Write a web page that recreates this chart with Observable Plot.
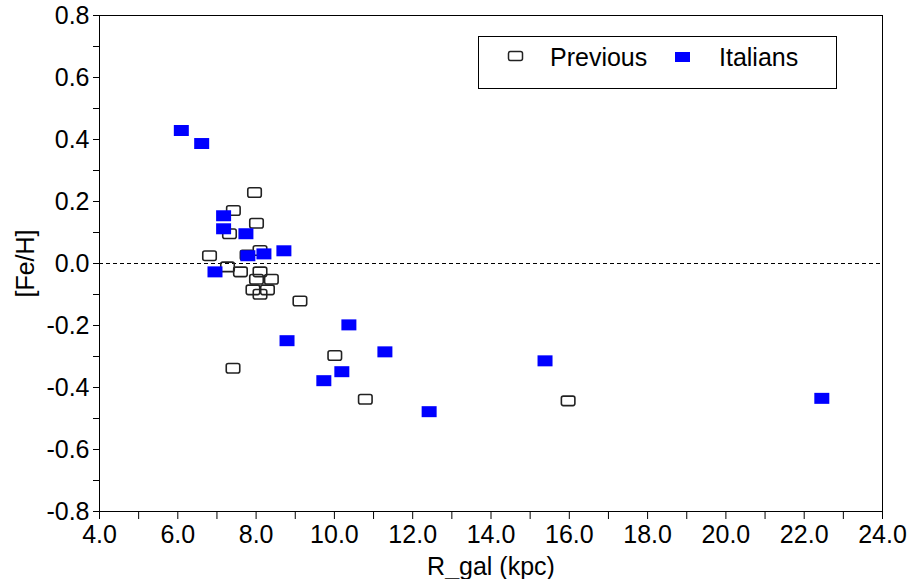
<!DOCTYPE html>
<html>
<head>
<meta charset="utf-8">
<script src="https://cdn.jsdelivr.net/npm/d3@7"></script>
<script src="https://cdn.jsdelivr.net/npm/@observablehq/plot@0.6"></script>
<style>
  html, body { margin: 0; padding: 0; background: #fff; }
  #wrap { position: relative; width: 907px; height: 579px; }
  #legend { position: absolute; left: 478px; top: 36px; }
</style>
</head>
<body>
<div id="wrap"></div>
<script>
// --- data ---
const prevR  = [7.96, 7.42, 8.01, 7.32, 6.81, 8.10, 7.77, 7.27, 7.60, 8.10, 8.39, 8.01, 7.92, 8.29, 8.10, 9.12, 7.41, 10.01, 10.79, 15.97];
const prevFe = [0.229, 0.171, 0.130, 0.096, 0.025, 0.042, 0.027, -0.011, -0.027, -0.027, -0.051, -0.051, -0.085, -0.085, -0.099, -0.121, -0.338, -0.297, -0.438, -0.443];
const itaR   = [6.09, 6.61, 7.17, 7.17, 7.74, 7.79, 8.20, 8.71, 6.95, 8.79, 10.37, 9.73, 10.19, 11.29, 12.42, 15.38, 22.45];
const itaFe  = [0.429, 0.387, 0.154, 0.112, 0.096, 0.025, 0.031, 0.041, -0.027, -0.249, -0.198, -0.378, -0.349, -0.285, -0.478, -0.314, -0.435];
const seriesNames = ["Previous", "Italians"];
const xTicks = [4, 6, 8, 10, 12, 14, 16, 18, 20, 22, 24];
const xMinor = [5, 7, 9, 11, 13, 15, 17, 19, 21, 23];
const yTicks = [-0.8, -0.6, -0.4, -0.2, 0.0, 0.2, 0.4, 0.6, 0.8];
const yMinor = [-0.7, -0.5, -0.3, -0.1, 0.1, 0.3, 0.5, 0.7];
const xLabel = "R_gal (kpc)";
const yLabel = "[Fe/H]";

const prev = prevR.map((r, i) => ({r, fe: prevFe[i]}));
const ita = itaR.map((r, i) => ({r, fe: itaFe[i]}));

function boxSymbol(w, h, rad) {
  return {
    draw(ctx) {
      const x0 = -w / 2, y0 = -h / 2, x1 = w / 2, y1 = h / 2;
      if (!rad) {
        ctx.moveTo(x0, y0); ctx.lineTo(x1, y0); ctx.lineTo(x1, y1); ctx.lineTo(x0, y1); ctx.closePath();
      } else {
        ctx.moveTo(x0 + rad, y0);
        ctx.lineTo(x1 - rad, y0); ctx.arcTo(x1, y0, x1, y0 + rad, rad);
        ctx.lineTo(x1, y1 - rad); ctx.arcTo(x1, y1, x1 - rad, y1, rad);
        ctx.lineTo(x0 + rad, y1); ctx.arcTo(x0, y1, x0, y1 - rad, rad);
        ctx.lineTo(x0, y0 + rad); ctx.arcTo(x0, y0, x0 + rad, y0, rad);
        ctx.closePath();
      }
    }
  };
}
const openBox = boxSymbol(13.5, 9.5, 2);
const fillBox = boxSymbol(15, 11, 0);

const fmt = d => d.toFixed(1);

const chart = Plot.plot({
  width: 907,
  height: 579,
  marginLeft: 99,
  marginRight: 25,
  marginTop: 15,
  marginBottom: 68,
  style: {fontFamily: "Arial, 'Liberation Sans', sans-serif", fontSize: "25px", color: "#000", background: "#fff", overflow: "visible"},
  x: {domain: [4, 24]},
  y: {domain: [-0.8, 0.8]},
  marks: [
    Plot.ruleY([0], {stroke: "#000", strokeWidth: 1, strokeDasharray: "4,3"}),
    Plot.axisX(xMinor, {tickSize: 8, tickFormat: () => "", label: null}),
    Plot.axisX(xTicks, {tickSize: 8, tickPadding: 6, tickFormat: fmt, label: xLabel, labelAnchor: "center", labelArrow: "none", labelOffset: 63}),
    Plot.axisY(yMinor, {tickSize: 6, tickFormat: () => "", label: null}),
    Plot.axisY(yTicks, {tickSize: 6, tickPadding: 4, tickFormat: fmt, label: yLabel, labelAnchor: "center", labelArrow: "none", labelOffset: 83}),
    Plot.dot(prev, {x: "r", y: "fe", symbol: openBox, fill: "none", stroke: "#222", strokeWidth: 1.6}),
    Plot.dot(ita, {x: "r", y: "fe", symbol: fillBox, fill: "#0000ff", stroke: "none"}),
    Plot.frame({stroke: "#000", strokeWidth: 1})
  ]
});
document.getElementById("wrap").appendChild(chart);

// legend
const ns = "http://www.w3.org/2000/svg";
const lg = document.createElementNS(ns, "svg");
lg.setAttribute("id", "legend");
lg.setAttribute("width", 360);
lg.setAttribute("height", 54);
lg.innerHTML = `
  <rect x="0.5" y="0.5" width="358" height="52" fill="#fff" stroke="#000" stroke-width="1"/>
  <rect x="30.5" y="15.5" width="14" height="9" rx="2" fill="none" stroke="#222" stroke-width="1.5"/>
  <text x="72" y="30" font-family="Arial, 'Liberation Sans', sans-serif" font-size="25" fill="#000">${seriesNames[0]}</text>
  <rect x="197" y="16" width="15" height="10" fill="#0000ff"/>
  <text x="241" y="30" font-family="Arial, 'Liberation Sans', sans-serif" font-size="25" fill="#000">${seriesNames[1]}</text>
`;
document.getElementById("wrap").appendChild(lg);
</script>
</body>
</html>
